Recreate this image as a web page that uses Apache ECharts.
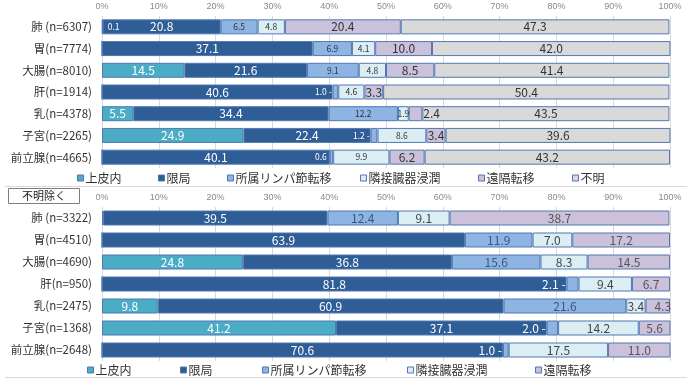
<!DOCTYPE html>
<html><head><meta charset="utf-8">
<script src="https://cdn.jsdelivr.net/npm/echarts@6/dist/echarts.min.js"></script>
<style>html,body{margin:0;padding:0;background:#fff}#c{width:687px;height:386px}</style>
</head><body><div id="c"></div>
<script>
// ---- data ----
const seriesNames = ['上皮内','限局','所属リンパ節転移','隣接臓器浸潤','遠隔転移','不明'];
const axisTicks = [0,10,20,30,40,50,60,70,80,90,100];
const tickSuffix = '%';
const boxLabel = '不明除く';

const topCategories = ['肺 (n=6307)','胃(n=7774)','大腸(n=8010)','肝(n=1914)','乳(n=4378)','子宮(n=2265)','前立腺(n=4665)'];
const topIntra    = [0.1, 0,    14.5, 0,    5.5,  24.9, 0];
const topLocal    = [20.8, 37.1, 21.6, 40.6, 34.4, 22.4, 40.1];
const topRegional = [6.5, 6.9,  9.1,  1.0,  12.2, 1.2,  0.6];
const topAdjacent = [4.8, 4.1,  4.8,  4.6,  1.9,  8.6,  9.9];
const topDistant  = [20.4, 10.0, 8.5, 3.3,  2.4,  3.4,  6.2];
const topUnknown  = [47.3, 42.0, 41.4, 50.4, 43.5, 39.6, 43.2];

const botCategories = ['肺 (n=3322)','胃(n=4510)','大腸(n=4690)','肝(n=950)','乳(n=2475)','子宮(n=1368)','前立腺(n=2648)'];
const botIntra    = [0.2, 0,    24.8, 0,    9.8,  41.2, 0];
const botLocal    = [39.5, 63.9, 36.8, 81.8, 60.9, 37.1, 70.6];
const botRegional = [12.4, 11.9, 15.6, 2.1, 21.6, 2.0,  1.0];
const botAdjacent = [9.1, 7.0,  8.3,  9.4,  3.4,  14.2, 17.5];
const botDistant  = [38.7, 17.2, 14.5, 6.7, 4.3,  5.6,  11.0];

// ---- styles ----
const FONT = '"Noto Sans CJK JP", "Noto Sans", sans-serif';
const colors = ['#4bacc6','#2f5d96','#8db4e2','#dbeef4','#ccc1da','#d9d9d9'];
const borderC = '#5079b3';

const topLabelStyle = [
  {color:'#fff', fontSize:12},
  {color:'#fff', fontSize:12},
  {color:'#333', fontSize:8.5},
  {color:'#333', fontSize:8.5},
  {color:'#333', fontSize:12},
  {color:'#333', fontSize:12}
];
const botLabelStyle = [
  {color:'#fff', fontSize:12},
  {color:'#fff', fontSize:12},
  {color:'#3d5780', fontSize:12},
  {color:'#444', fontSize:12},
  {color:'#555', fontSize:12},
  {color:'#555', fontSize:12}
];
// special label placements: key = seriesIdx-categoryIdx
const topOverrides = {
  '0-0': {position:'right', distance:5, fontSize:8.5},
  '2-3': {position:'left', distance:1, color:'#fff', suffix:' -'},
  '2-5': {position:'left', distance:1, color:'#fff', suffix:' -'},
  '2-6': {position:'left', distance:3, color:'#fff'},
  '4-4': {position:'right', distance:1}
};
const botOverrides = {
  '0-0': {hide:true},
  '2-3': {position:'left', distance:1, color:'#fff', suffix:' -'},
  '2-5': {position:'left', distance:1, color:'#fff', suffix:' -'},
  '2-6': {position:'left', distance:1, color:'#fff', suffix:' -'},
  '4-4': {offset:[5,0]}
};

function buildSeries(valuesList, gridIdx, stack, labelStyles, overrides) {
  return valuesList.map((vals, si) => ({
    name: seriesNames[si],
    type: 'bar',
    stack: stack,
    xAxisIndex: gridIdx,
    yAxisIndex: gridIdx,
    barWidth: 15,
    itemStyle: {color: colors[si], borderColor: borderC, borderWidth: 1},
    label: {
      show: true,
      position: 'inside',
      fontFamily: FONT,
      color: labelStyles[si].color,
      fontSize: labelStyles[si].fontSize,
      formatter: p => {
        const o = overrides[si + '-' + p.dataIndex];
        if (p.value === 0 || (o && o.hide)) return '';
        return p.value.toFixed(1) + (o && o.suffix ? o.suffix : '');
      }
    },
    data: vals.map((v, ci) => {
      const o = overrides[si + '-' + ci];
      if (!o) return v;
      const lab = {};
      ['position','distance','color','fontSize','offset'].forEach(k => { if (o[k] !== undefined) lab[k] = o[k]; });
      return {value: v, label: lab};
    })
  }));
}

const xAxisBase = (gi) => ({
  type: 'value', gridIndex: gi, position: 'top', min: 0, max: 100, interval: 10,
  axisLine: {show:false}, axisTick: {show:false},
  splitLine: {show:true, lineStyle:{color:'#d9d9d9', width:1}},
  axisLabel: {color:'#8a8a8a', fontSize:9, margin:5,
    fontFamily:'"Liberation Sans Narrow", "Liberation Sans", sans-serif',
    formatter: v => axisTicks.includes(v) ? v + tickSuffix : ''}
});
const yAxisBase = (gi, cats) => ({
  type: 'category', gridIndex: gi, data: cats, inverse: true,
  axisLine: {show:false}, axisTick: {show:false},
  axisLabel: {color:'#333', fontSize:11.5, margin:10, fontFamily: FONT}
});

const topLegendX = [77, 158, 227, 360, 478, 572];
const botLegendX = [87, 180, 262, 407, 535];
function legends(xs, top) {
  return xs.map((x, i) => ({
    data: [seriesNames[i]], left: x, top: top, padding: 0,
    icon: 'rect', itemWidth: 6, itemHeight: 6,
    itemStyle: {borderColor: borderC, borderWidth: 1},
    textStyle: {fontFamily: FONT, fontSize: 12, color:'#333', padding:[0,0,0,-3]},
    selectedMode: false
  }));
}

const chart = echarts.init(document.getElementById('c'), null, {renderer:'canvas'});
chart.setOption({
  animation: false,
  backgroundColor: '#fff',
  grid: [
    {left:102, right:17, top:16, height:152},
    {left:102, right:17, top:207, height:154}
  ],
  xAxis: [xAxisBase(0), xAxisBase(1)],
  yAxis: [yAxisBase(0, topCategories), yAxisBase(1, botCategories)],
  legend: legends(topLegendX, 172).concat(legends(botLegendX, 364)),
  series: buildSeries([topIntra, topLocal, topRegional, topAdjacent, topDistant, topUnknown], 0, 'top', topLabelStyle, topOverrides)
    .concat(buildSeries([botIntra, botLocal, botRegional, botAdjacent, botDistant], 1, 'bot', botLabelStyle, botOverrides)),
  graphic: [
    {type:'line', shape:{x1:5, y1:186.5, x2:687, y2:186.5}, style:{stroke:'#d9d9d9', lineWidth:1}},
    {type:'line', shape:{x1:5, y1:377.5, x2:687, y2:377.5}, style:{stroke:'#d9d9d9', lineWidth:1}},
    {type:'rect', shape:{x:8.5, y:188.5, width:71, height:15}, style:{fill:'#fff', stroke:'#7f7f7f', lineWidth:1}},
    {type:'text', x:44, y:196, style:{text: boxLabel, fill:'#222', font:'11px ' + FONT, textAlign:'center', textVerticalAlign:'middle'}}
  ]
});
</script></body></html>
